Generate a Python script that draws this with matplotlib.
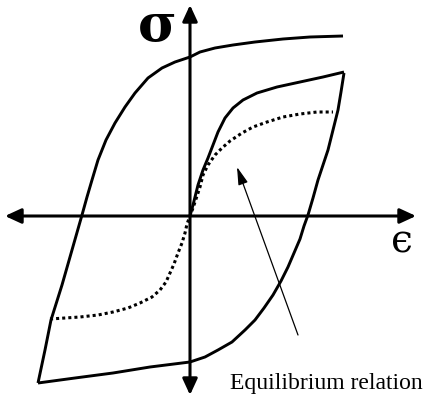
# hysteresis loop sketch: stress vs strain with equilibrium relation
import matplotlib
matplotlib.use('Agg')
import matplotlib.pyplot as plt

# outer branch, from upper right down to lower left corner
upper_strain = [153, 120, 93, 65, 43, 25, 10, 0, -15, -28, -42, -55, -65,
                -75, -84, -92, -98, -103, -108, -118, -128, -139, -145, -152]
upper_stress = [180, 179, 177, 174, 171, 168, 164, 159, 154, 148, 138, 123,
                109, 93, 76, 56, 36, 19, 1, -34, -69, -104, -134, -167]

# lower branch, from lower left corner up to the right tip
lower_strain = [-152, -115, -77, -40, 0, 15, 28, 42, 55, 65, 74, 83, 91, 98,
                104, 110, 114, 118, 123, 128, 133, 138, 143, 148, 151, 154]
lower_stress = [-167, -162, -157, -151, -146, -141, -134, -126, -114, -104,
                -92, -79, -65, -51, -37, -23, -10, 1, 18, 36, 51, 66, 86, 106,
                124, 143]

# inner loading branch, from the right tip back to the origin
inner_strain = [154, 133, 110, 87, 67, 53, 43, 35, 28, 23, 18, 13, 8, 3, 0]
inner_stress = [144, 139, 134, 129, 123, 116, 108, 98, 84, 71, 58, 46, 31,
                11, 0]

# equilibrium relation (dotted)
equil_strain = [-140, -125, -110, -92, -77, -62, -50, -38, -30, -24, -20,
                -16, -12, -8, -5, -3, 0, 3, 6, 10, 13, 18, 25, 32, 40, 52,
                63, 77, 93, 110, 127, 143]
equil_stress = [-103, -102, -101, -99, -96, -92, -87, -81, -74, -66, -57,
                -48, -37, -27, -17, -8, 0, 8, 17, 29, 41, 51, 61, 68, 75, 83,
                89, 94, 99, 102, 104, 104]

fig = plt.figure(figsize=(4.28, 3.98), dpi=100)
ax = fig.add_axes([0, 0, 1, 1])
ax.set_xlim(-190, 238)
ax.set_ylim(-182, 216)
ax.axis('off')

# axes with arrow heads
axis_style = dict(arrowstyle='<|-|>,head_length=0.65,head_width=0.3',
                  color='black', lw=2.2, mutation_scale=15,
                  shrinkA=0, shrinkB=0)
ax.annotate('', xy=(226, 0), xytext=(-185, 0), arrowprops=axis_style)
ax.annotate('', xy=(0, 211), xytext=(0, -179), arrowprops=axis_style)

loop_kw = dict(color='black', lw=2.1, solid_joinstyle='miter',
               solid_capstyle='butt')
ax.plot(upper_strain, upper_stress, **loop_kw)
ax.plot(lower_strain, lower_stress, **loop_kw)
ax.plot(inner_strain, inner_stress, **loop_kw)
ax.plot(equil_strain, equil_stress, color='black', lw=2.2,
        linestyle=(0, (1, 1)), dash_capstyle='butt')

# pointer to the dotted curve
ax.annotate('', xy=(47, 49), xytext=(108, -119),
            arrowprops=dict(arrowstyle='-|>,head_length=0.9,head_width=0.25',
                            color='black', lw=0.9, mutation_scale=12,
                            shrinkA=0, shrinkB=0))

ax.text(-33, 190, '\u03c3', fontsize=38, fontweight='bold',
        family=['DejaVu Serif'], ha='center', va='center')
ax.text(212, -26, '\u03f5', fontsize=28,
        family=['DejaVu Serif'], ha='center', va='center')
ax.text(40, -167, 'Equilibrium relation', fontsize=17,
        family=['Liberation Serif'], ha='left', va='center')

fig.savefig('out.png', dpi=100)
